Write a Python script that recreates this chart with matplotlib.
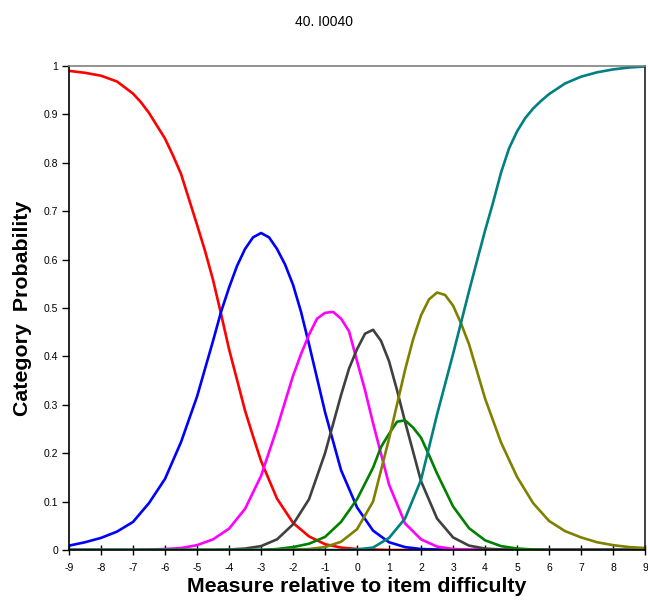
import numpy as np
import matplotlib
matplotlib.use("Agg")
import matplotlib.pyplot as plt
from matplotlib.ticker import FuncFormatter

plt.rcParams["font.family"] = ["Liberation Sans", "DejaVu Sans"]
plt.rcParams["axes.unicode_minus"] = False

# measures read at 0.5 logit steps
measure = np.arange(-9, 9.01, 0.5)

# category probabilities (cat 0 .. cat 6)
cat0 = [0.990, 0.986, 0.980, 0.968, 0.943, 0.903, 0.850, 0.777, 0.672, 0.558,
        0.415, 0.288, 0.184, 0.106, 0.056, 0.028, 0.012, 0.005, 0.002, 0.001,
        0, 0, 0, 0, 0, 0, 0, 0, 0, 0, 0, 0, 0, 0, 0, 0, 0]
cat1 = [0.009, 0.016, 0.025, 0.038, 0.058, 0.097, 0.147, 0.223, 0.317, 0.432,
        0.542, 0.622, 0.655, 0.622, 0.548, 0.425, 0.285, 0.165, 0.088, 0.040,
        0.016, 0.006, 0.002, 0.001, 0, 0, 0, 0, 0, 0, 0, 0, 0, 0, 0, 0, 0]
cat2 = [0, 0, 0, 0, 0, 0.001, 0.002, 0.004, 0.010, 0.022,
        0.044, 0.085, 0.153, 0.252, 0.360, 0.445, 0.490, 0.478, 0.390, 0.262,
        0.135, 0.055, 0.022, 0.007, 0.002, 0.001, 0, 0, 0, 0, 0, 0, 0, 0, 0, 0, 0]
cat3 = [0, 0, 0, 0, 0, 0, 0, 0, 0, 0,
        0.001, 0.003, 0.008, 0.022, 0.053, 0.105, 0.200, 0.320, 0.415, 0.455,
        0.390, 0.265, 0.142, 0.065, 0.026, 0.009, 0.003, 0.001, 0, 0, 0, 0, 0, 0, 0, 0, 0]
cat4 = [0, 0, 0, 0, 0, 0, 0, 0, 0, 0,
        0, 0, 0, 0.002, 0.006, 0.013, 0.027, 0.058, 0.105, 0.170,
        0.240, 0.268, 0.232, 0.158, 0.090, 0.045, 0.020, 0.008, 0.003, 0.001,
        0, 0, 0, 0, 0, 0, 0]
cat5 = [0, 0, 0, 0, 0, 0, 0, 0, 0, 0,
        0, 0, 0, 0, 0.001, 0.002, 0.006, 0.017, 0.043, 0.100,
        0.230, 0.372, 0.485, 0.532, 0.505, 0.425, 0.313, 0.222, 0.151, 0.097,
        0.060, 0.039, 0.026, 0.016, 0.010, 0.006, 0.004]
cat6 = [0, 0, 0, 0, 0, 0, 0, 0, 0, 0,
        0, 0, 0, 0, 0, 0, 0, 0, 0.001, 0.005,
        0.025, 0.065, 0.145, 0.280, 0.405, 0.535, 0.660, 0.780, 0.865, 0.912,
        0.942, 0.964, 0.978, 0.987, 0.993, 0.997, 0.999]

# extra readings taken near the bends of each curve
extra_x = {
    0: [-6.75, -5.75, -4.75, -4.25, -3.25],
    1: [-4.25, -3.75, -3.25, -2.75, -2.25, -1.75],
    2: [-1.75, -1.25, -0.75, -0.25, 0.25],
    3: [-0.25, 0.25, 0.75, 1.25],
    4: [0.75, 1.25, 1.75, 2.25],
    5: [1.75, 2.25, 2.75, 3.25],
    6: [3.75, 4.25, 4.75, 5.25, 5.75],
}
extra_y = {
    0: [0.925, 0.815, 0.618, 0.488, 0.235],
    1: [0.492, 0.587, 0.646, 0.646, 0.590, 0.492],
    2: [0.405, 0.478, 0.492, 0.452, 0.330],
    3: [0.375, 0.447, 0.432, 0.330],
    4: [0.213, 0.265, 0.253, 0.196],
    5: [0.435, 0.518, 0.527, 0.468],
    6: [0.598, 0.718, 0.830, 0.892, 0.928],
}

curves = [cat0, cat1, cat2, cat3, cat4, cat5, cat6]
colors = ["#ff0000", "#0000ff", "#ff00ff", "#404040", "#008000", "#808000", "#008080"]

fig = plt.figure(figsize=(6.48, 6.03), dpi=100, facecolor="white")
ax = fig.add_axes([0.1065, 0.0879, 0.889, 0.8026])

for k, (vals, c) in enumerate(zip(curves, colors)):
    xs = np.concatenate([measure, extra_x[k]])
    ys = np.concatenate([vals, extra_y[k]])
    order = np.argsort(xs)
    ax.plot(xs[order], ys[order], color=c, linewidth=1.9, solid_joinstyle="round")

ax.set_xlim(-9, 9)
ax.set_ylim(0, 1)
ax.set_xticks(np.arange(-9, 10, 1))
ax.set_yticks(np.arange(0, 1.01, 0.1))
ax.yaxis.set_major_formatter(FuncFormatter(lambda v, p: f"{v:g}"))
ax.tick_params(axis="x", direction="inout", length=7, width=1, labelsize=7.5, pad=6)
ax.tick_params(axis="y", direction="out", length=5, width=1, labelsize=7.5, pad=3)

ax.spines["left"].set_color("black")
ax.spines["bottom"].set_color("black")
ax.spines["top"].set_color("#808080")
ax.spines["right"].set_color("#202020")
for s in ax.spines.values():
    s.set_linewidth(1.2)

fig.text(0.5, 0.9635, "40. I0040", ha="center", va="center", fontsize=10)
fig.text(0.55, 0.027, "Measure relative to item difficulty", ha="center",
         va="center", fontsize=15.4, fontweight="bold")
fig.text(0.034, 0.489, "Category  Probability", ha="center", va="center",
         rotation=90, fontsize=15.4, fontweight="bold")

fig.savefig("out.png", dpi=100, facecolor="white")
